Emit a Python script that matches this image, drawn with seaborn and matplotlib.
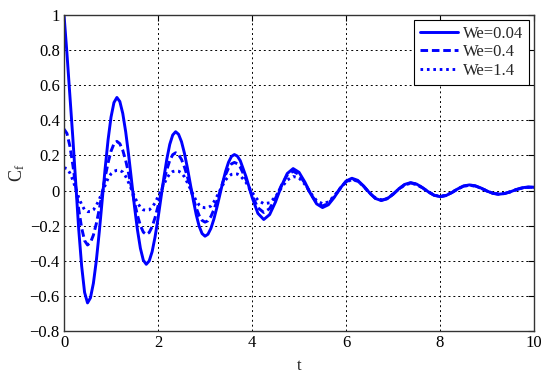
import numpy as np
import pandas as pd
import matplotlib
matplotlib.use("Agg")
import matplotlib.pyplot as plt
import seaborn as sns

# time samples
t = [0, 0.0625, 0.125, 0.1875, 0.25, 0.3125, 0.375, 0.4375, 0.5, 0.5625,
     0.625, 0.6875, 0.75, 0.8125, 0.875, 0.9375, 1.0, 1.0625, 1.125, 1.1875,
     1.25, 1.3125, 1.375, 1.4375, 1.5, 1.5625, 1.625, 1.6875, 1.75, 1.8125,
     1.875, 1.9375, 2.0, 2.0625, 2.125, 2.1875, 2.25, 2.3125, 2.375, 2.4375,
     2.5, 2.5625, 2.625, 2.6875, 2.75, 2.8125, 2.875, 2.9375, 3.0, 3.0625,
     3.125, 3.1875, 3.25, 3.3125, 3.375, 3.4375, 3.5, 3.5625, 3.625, 3.6875,
     3.75, 3.875, 4.0, 4.125, 4.25, 4.375, 4.5, 4.625, 4.75, 4.875,
     5.0, 5.125, 5.25, 5.375, 5.5, 5.625, 5.75, 5.875, 6.0, 6.125,
     6.25, 6.375, 6.5, 6.625, 6.75, 6.875, 7.0, 7.125, 7.25, 7.375,
     7.5, 7.625, 7.75, 7.875, 8.0, 8.125, 8.25, 8.375, 8.5, 8.625,
     8.75, 8.875, 9.0, 9.125, 9.25, 9.375, 9.5, 9.625, 9.75, 9.875,
     10.0]

cf_we004 = [1.00, 0.78, 0.54, 0.30, 0.04, -0.22, -0.43, -0.58, -0.64, -0.611,
            -0.528, -0.399, -0.236, -0.055, 0.126, 0.289, 0.418, 0.501, 0.53, 0.507,
            0.439, 0.334, 0.202, 0.055, -0.092, -0.224, -0.329, -0.397, -0.42, -0.401,
            -0.348, -0.264, -0.159, -0.042, 0.074, 0.179, 0.263, 0.316, 0.335, 0.320,
            0.278, 0.212, 0.129, 0.037, -0.054, -0.137, -0.203, -0.245, -0.26, -0.249,
            -0.216, -0.164, -0.099, -0.028, 0.044, 0.109, 0.161, 0.194, 0.205, 0.196,
            0.170, 0.077, -0.037, -0.130, -0.165, -0.137, -0.065, 0.025, 0.097, 0.125,
            0.104, 0.048, -0.020, -0.076, -0.097, -0.081, -0.039, 0.012, 0.054, 0.070,
            0.058, 0.026, -0.013, -0.045, -0.057, -0.047, -0.022, 0.010, 0.035, 0.045,
            0.037, 0.017, -0.007, -0.027, -0.035, -0.029, -0.012, 0.009, 0.026, 0.032,
            0.027, 0.014, -0.003, -0.016, -0.021, -0.017, -0.007, 0.006, 0.016, 0.020,
            0.019]

cf_we04 = [0.35, 0.325, 0.253, 0.146, 0.02, -0.106, -0.213, -0.285, -0.31, -0.296,
           -0.254, -0.188, -0.106, -0.015, 0.076, 0.158, 0.224, 0.266, 0.28, 0.267,
           0.229, 0.171, 0.097, 0.015, -0.067, -0.141, -0.199, -0.237, -0.25, -0.239,
           -0.206, -0.154, -0.089, -0.018, 0.054, 0.119, 0.171, 0.204, 0.215, 0.205,
           0.177, 0.134, 0.079, 0.018, -0.044, -0.099, -0.142, -0.170, -0.18, -0.172,
           -0.148, -0.110, -0.063, -0.010, 0.043, 0.090, 0.128, 0.152, 0.16, 0.153,
           0.133, 0.062, -0.027, -0.098, -0.125, -0.103, -0.044, 0.029, 0.088, 0.11,
           0.091, 0.042, -0.020, -0.069, -0.088, -0.073, -0.035, 0.012, 0.050, 0.065,
           0.054, 0.024, -0.014, -0.044, -0.055, -0.046, -0.021, 0.009, 0.034, 0.043,
           0.036, 0.016, -0.007, -0.027, -0.034, -0.028, -0.012, 0.009, 0.025, 0.031,
           0.026, 0.013, -0.003, -0.016, -0.021, -0.017, -0.007, 0.005, 0.015, 0.019,
           0.018]

cf_we14 = [0.13, 0.125, 0.10, 0.06, 0.01, -0.04, -0.08, -0.11, -0.12, -0.12,
           -0.11, -0.085, -0.05, -0.01, 0.03, 0.07, 0.095, 0.11, 0.115, 0.115,
           0.105, 0.08, 0.045, 0.005, -0.035, -0.07, -0.095, -0.11, -0.112, -0.11,
           -0.095, -0.07, -0.035, 0.0, 0.035, 0.07, 0.095, 0.108, 0.112, 0.11,
           0.10, 0.078, 0.045, 0.01, -0.025, -0.058, -0.082, -0.095, -0.098, -0.097,
           -0.088, -0.065, -0.035, -0.002, 0.03, 0.06, 0.08, 0.092, 0.095, 0.094,
           0.085, 0.045, -0.01, -0.055, -0.075, -0.07, -0.035, 0.015, 0.06, 0.08,
           0.072, 0.035, -0.015, -0.058, -0.075, -0.065, -0.03, 0.012, 0.048, 0.062,
           0.053, 0.023, -0.012, -0.042, -0.053, -0.045, -0.02, 0.008, 0.032, 0.041,
           0.035, 0.015, -0.007, -0.026, -0.033, -0.028, -0.011, 0.009, 0.024, 0.030,
           0.025, 0.013, -0.003, -0.015, -0.020, -0.016, -0.007, 0.005, 0.014, 0.018,
           0.018]

labels = ['We=0.04', 'We=0.4', 'We=1.4']
styles = ['-', (0, (2.6, 1.3)), (0, (0.9, 1.3))]

df = pd.DataFrame({'t': t * 3,
                   'Cf': cf_we004 + cf_we04 + cf_we14,
                   'We': [labels[0]] * len(t) + [labels[1]] * len(t) + [labels[2]] * len(t)})

sns.set_style("white")
plt.rcParams['font.family'] = ['Liberation Serif', 'DejaVu Serif']
plt.rcParams['mathtext.fontset'] = 'stix'

fig = plt.figure(figsize=(5.5, 3.79), dpi=100)
ax = fig.add_axes([0.1164, 0.1266, 0.8545, 0.834])

for lab, ls in zip(labels, styles):
    sns.lineplot(data=df[df['We'] == lab], x='t', y='Cf', ax=ax, color='#0000ff',
                 linewidth=2.1, linestyle=ls, label=lab)

ax.set_xlim(0, 10)
ax.set_ylim(-0.8, 1.0)
ax.set_xticks([0, 2, 4, 6, 8, 10])
ax.set_yticks([-0.8, -0.6, -0.4, -0.2, 0, 0.2, 0.4, 0.6, 0.8, 1])
ax.set_yticklabels(['\u22120.8', '\u22120.6', '\u22120.4', '\u22120.2', '0',
                    '0.2', '0.4', '0.6', '0.8', '1'])
ax.grid(True, color='black', linestyle=(0, (2, 3)), linewidth=0.7)
ax.tick_params(direction='in', length=4, width=0.8, top=True, right=True,
               labelsize=12, colors='black', pad=3)
for s in ax.spines.values():
    s.set_color('#333333')
    s.set_linewidth(1.0)

ax.set_xlabel('t', fontsize=12, labelpad=5)
ax.set_ylabel(r'C$_\mathregular{f}$', fontsize=13, labelpad=2)

leg = ax.legend(loc='upper right', fontsize=12, handlelength=2.3, frameon=True,
                fancybox=False, edgecolor='black', framealpha=1,
                borderaxespad=0.3, handletextpad=0.3, labelspacing=0.15,
                borderpad=0.35)
leg.get_frame().set_linewidth(0.8)

plt.savefig('out.png', dpi=100)
